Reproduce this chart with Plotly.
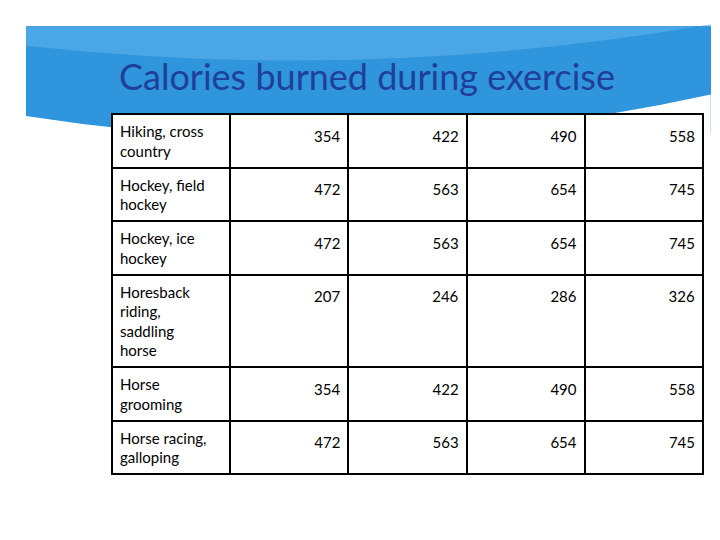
import plotly.graph_objects as go

activities = ["Hiking, cross<br>country", "Hockey, field<br>hockey", "Hockey, ice<br>hockey",
              "Horesback<br>riding,<br>saddling<br>horse", "Horse<br>grooming", "Horse racing,<br>galloping"]
col1 = [354, 472, 472, 207, 354, 472]
col2 = [422, 563, 563, 246, 422, 563]
col3 = [490, 654, 654, 286, 490, 654]
col4 = [558, 745, 745, 326, 558, 745]

# push numbers down so they sit near the middle of each row
pads = ["<br>" * (a.count("<br>") // 2 + (1 if a.count("<br>") == 1 else 0)) for a in activities]
num_cols = [[p + str(v) for p, v in zip(pads, c)] for c in (col1, col2, col3, col4)]
cols = [activities] + num_cols
font = dict(family="Lato", size=15, color="black")

fig = go.Figure(go.Table(
    domain=dict(x=[104/720, 695/720], y=[0.0, 1 - 106/540]),
    columnwidth=[1, 1, 1, 1, 1],
    header=dict(values=[c[0] for c in cols], align=["left", "right"], font=font,
                fill_color="white", line=dict(color="black", width=2), height=51),
    cells=dict(values=[c[1:] for c in cols], align=["left", "right"], font=font,
               fill_color="white", line=dict(color="black", width=2), height=51),
))

fig.update_layout(
    width=720, height=540, margin=dict(l=0, r=0, t=0, b=0),
    paper_bgcolor="white",
    shapes=[
        dict(type="rect", xref="paper", yref="paper", x0=18/720, x1=703/720,
             y0=1 - 125/540, y1=1 - 18/540, fillcolor="#2f95dc", line_width=0, layer="below"),
        dict(type="path", xref="paper", yref="paper", layer="below",
             path="M 0.025 0.80 Q 0.5 0.70 0.976 0.84 L 0.976 0.75 L 0.025 0.75 Z",
             fillcolor="white", line_width=0),
        dict(type="path", xref="paper", yref="paper", layer="below",
             path="M 0.025 0.93 Q 0.5 0.86 0.976 0.97 L 0.976 0.966 L 0.025 0.966 Z",
             fillcolor="#5db3ea", line_width=0, opacity=0.6),
    ],
    annotations=[dict(text="Calories burned during exercise", x=359/720, y=1 - 44/540,
                      xref="paper", yref="paper", showarrow=False,
                      font=dict(family="Lato", size=36, color="#1f3f9a"))],
)

fig.write_html("out.html")
